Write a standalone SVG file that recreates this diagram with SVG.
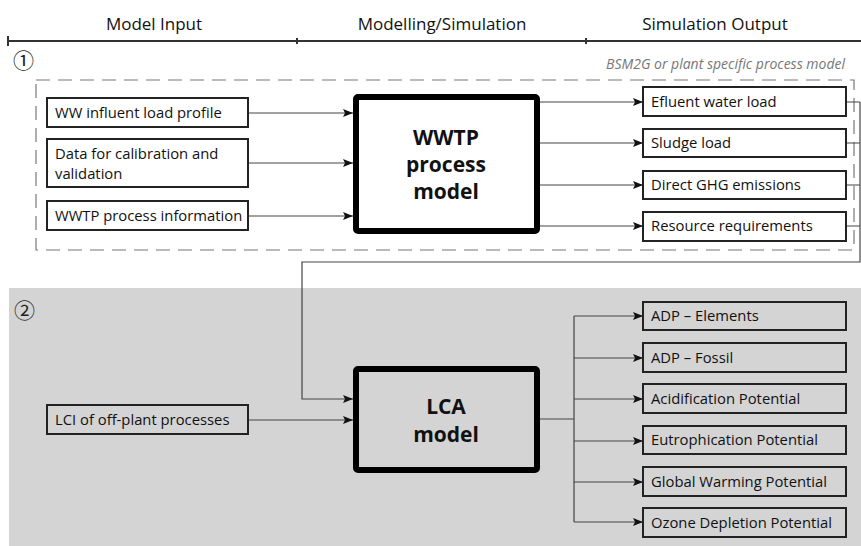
<svg xmlns="http://www.w3.org/2000/svg" width="861" height="546" viewBox="0 0 861 546">
<defs>
<marker id="ah" viewBox="0 0 10 8" refX="10" refY="4" markerWidth="10" markerHeight="8" markerUnits="userSpaceOnUse" orient="auto">
<path d="M0,0 L10,4 L0,8 L2,4 Z" fill="#111"/>
</marker>
<style>
.t{font-family:"Open Sans","Liberation Sans",sans-serif;fill:#111}
.hd{font-size:17px}
.num{font-family:"Noto Sans CJK JP","DejaVu Sans",sans-serif;font-size:21px;fill:#222}
.bx{fill:#fff;stroke:#222;stroke-width:2}
.gx{fill:#d4d4d4;stroke:#222;stroke-width:2}
.lbl{font-size:14.8px}
.big{fill:#fff;stroke:#000;stroke-width:6;stroke-linejoin:round}
.bt{font-size:21px;font-weight:bold;text-anchor:middle}
.c{fill:none;stroke:#444;stroke-width:1.2}
.ca{fill:none;stroke:#444;stroke-width:1.2;marker-end:url(#ah)}
</style>
</defs>
<rect x="0" y="0" width="861" height="546" fill="#fff"/>
<rect x="9" y="288" width="852" height="258" fill="#d4d4d4"/>

<g id="header">
<text class="t hd" x="154" y="30" text-anchor="middle">Model Input</text>
<text class="t hd" x="442" y="30" text-anchor="middle">Modelling/Simulation</text>
<text class="t hd" x="715" y="30" text-anchor="middle">Simulation Output</text>
<path d="M8,41 H861 M8,36 V46 M297,38 V44 M586,38 V44" stroke="#333" stroke-width="2" fill="none"/>
</g>

<g id="section1">
<text class="num" x="13" y="68">①</text>
<rect x="36" y="80" width="818" height="170" fill="none" stroke="#777" stroke-width="1.2" stroke-dasharray="14,8"/>
<text x="845" y="69" font-family="Open Sans, Liberation Sans, sans-serif" font-size="14px" font-style="italic" text-anchor="end" fill="#777">BSM2G or plant specific process model</text>
</g>
<g id="section2">
<text class="num" x="14" y="318">②</text>
</g>

<g id="connectors">
<path class="ca" d="M248,113 H353"/>
<path class="ca" d="M248,163 H353"/>
<path class="ca" d="M248,216 H353"/>
<path class="ca" d="M540,102 H643"/>
<path class="ca" d="M540,143 H643"/>
<path class="ca" d="M540,185 H643"/>
<path class="ca" d="M540,226 H643"/>
<path class="c" d="M846,102 H860 M846,143 H860 M846,185 H860 M846,226 H860"/>
<path class="ca" d="M860,102 V262 H302 V399 H353"/>
<path class="ca" d="M248,420 H353"/>
<path class="c" d="M540,419 H574 M574,316 V522"/>
<path class="ca" d="M574,316 H643"/>
<path class="ca" d="M574,358 H643"/>
<path class="ca" d="M574,399 H643"/>
<path class="ca" d="M574,441 H643"/>
<path class="ca" d="M574,482 H643"/>
<path class="ca" d="M574,522 H643"/>
</g>

<g id="in1"><rect class="bx" x="47" y="98" width="201" height="29"/><text class="t lbl" x="55" y="118">WW influent load profile</text></g>
<g id="in2"><rect class="bx" x="47" y="139" width="201" height="48"/><text class="t lbl" x="55" y="159">Data for calibration and</text><text class="t lbl" x="55" y="179">validation</text></g>
<g id="in3"><rect class="bx" x="47" y="201" width="201" height="29"/><text class="t lbl" x="55" y="221">WWTP process information</text></g>

<g id="wwtp"><rect class="big" x="356" y="97" width="181" height="134" rx="2"/>
<text class="t bt" x="446" y="145">WWTP</text><text class="t bt" x="446" y="172">process</text><text class="t bt" x="446" y="199">model</text></g>

<g id="out1"><rect class="bx" x="643" y="87" width="203" height="29"/><text class="t lbl" x="651" y="107">Efluent water load</text></g>
<g id="out2"><rect class="bx" x="643" y="129" width="203" height="28"/><text class="t lbl" x="651" y="148">Sludge load</text></g>
<g id="out3"><rect class="bx" x="643" y="171" width="203" height="28"/><text class="t lbl" x="651" y="190">Direct GHG emissions</text></g>
<g id="out4"><rect class="bx" x="643" y="212" width="203" height="29"/><text class="t lbl" x="651" y="231">Resource requirements</text></g>

<g id="lci"><rect class="gx" x="47" y="405" width="201" height="29"/><text class="t lbl" x="55" y="425">LCI of off-plant processes</text></g>

<g id="lca"><rect class="big" x="356" y="369" width="181" height="101" rx="2" style="fill:#d4d4d4"/>
<text class="t bt" x="446" y="414">LCA</text><text class="t bt" x="446" y="442">model</text></g>

<g id="r1"><rect class="gx" x="643" y="302" width="203" height="28"/><text class="t lbl" x="651" y="321">ADP – Elements</text></g>
<g id="r2"><rect class="gx" x="643" y="343" width="203" height="29"/><text class="t lbl" x="651" y="363">ADP – Fossil</text></g>
<g id="r3"><rect class="gx" x="643" y="384" width="203" height="29"/><text class="t lbl" x="651" y="404">Acidification Potential</text></g>
<g id="r4"><rect class="gx" x="643" y="426" width="203" height="28"/><text class="t lbl" x="651" y="445">Eutrophication Potential</text></g>
<g id="r5"><rect class="gx" x="643" y="467" width="203" height="29"/><text class="t lbl" x="651" y="487">Global Warming Potential</text></g>
<g id="r6"><rect class="gx" x="643" y="508" width="203" height="29"/><text class="t lbl" x="651" y="528">Ozone Depletion Potential</text></g>
</svg>
